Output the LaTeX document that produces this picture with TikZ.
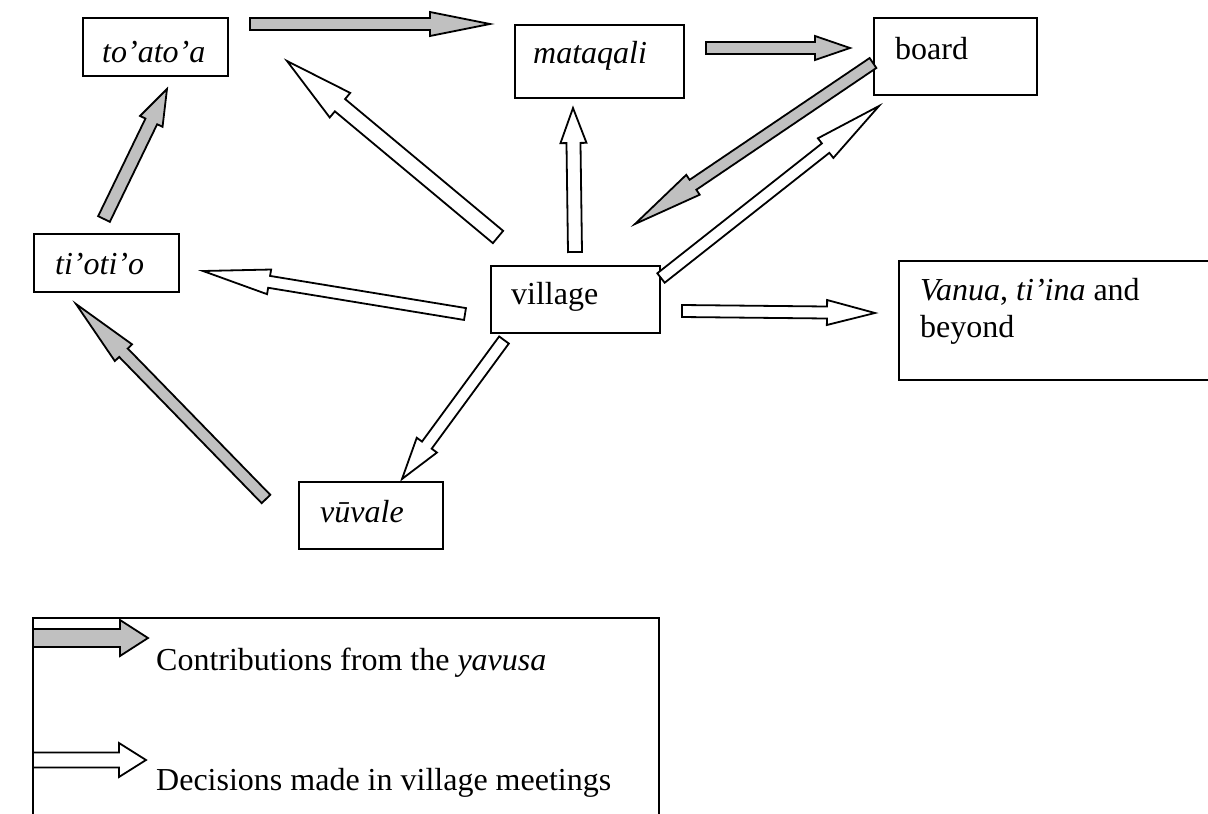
\documentclass[tikz,border=0pt]{standalone}
\usepackage{fontspec}
\setmainfont{Liberation Serif}
\usetikzlibrary{calc}
\definecolor{flowgray}{RGB}{192,192,192}
% block arrow: [style]{tail}{tip}{shaft half width}{head half width}{head length}
\newcommand{\blockarrow}[6][]{%
  \coordinate (ba-h) at ($(#3)!#6!(#2)$);
  \draw[#1] ($(#2)!#4!90:(#3)$) -- ($(ba-h)!#4!90:(#3)$) -- ($(ba-h)!#5!90:(#3)$)
    -- (#3) -- ($(ba-h)!#5!-90:(#3)$) -- ($(ba-h)!#4!-90:(#3)$)
    -- ($(#2)!#4!-90:(#3)$) -- cycle;}
\begin{document}
\begin{tikzpicture}[x=1pt,y=-1pt,
  box/.style={draw, line width=2pt, inner sep=0pt, anchor=north west},
  lbl/.style={inner sep=0pt, anchor=base west, font=\fontsize{32}{37}\selectfont},
  contrib/.style={draw, line width=1.8pt, fill=flowgray, line join=miter},
  decision/.style={draw, line width=1.8pt, fill=white, line join=miter}]
\useasboundingbox (0,0) rectangle (1208,814);
\clip (0,0) rectangle (1208,814);

% boxes
\node[box, minimum width=145pt, minimum height=58pt] (toatoa) at (82,17) {};
\node[box, minimum width=169pt, minimum height=73pt] (mataqali) at (514,24) {};
\node[box, minimum width=163pt, minimum height=77pt] (board) at (873,17) {};
\node[box, minimum width=145pt, minimum height=58pt] (tiotio) at (33,233) {};
\node[box, minimum width=169pt, minimum height=67pt] (village) at (490,265) {};
\node[box, minimum width=340pt, minimum height=119pt] (vanua) at (898,260) {};
\node[box, minimum width=144pt, minimum height=67pt] (vuvale) at (298,481) {};
\node[box, minimum width=626pt, minimum height=230pt] (legend) at (32,617) {};

% labels
\node[lbl] (toatoa-t) at (102,62) {\textit{to’ato’a}};
\node[lbl] (mataqali-t) at (533,63) {\textit{mataqali}};
\node[lbl] (board-t) at (895,59) {board};
\node[lbl] (tiotio-t) at (55,274) {\textit{ti’oti’o}};
\node[lbl] (village-t) at (511,304) {village};
\node[lbl] (vanua-t1) at (920,300) {\textit{Vanua}, \textit{ti’ina} and};
\node[lbl] (vanua-t2) at (920,337) {beyond};
\node[lbl] (vuvale-t) at (320,522) {\textit{vūvale}};
\node[lbl] (key-c) at (156,670) {Contributions from the \textit{yavusa}};
\node[lbl] (key-d) at (156,790) {Decisions made in village meetings};

% arrow ends
\coordinate (a1s) at (250,24);  \coordinate (a1e) at (490,24);
\coordinate (a2s) at (706,48);  \coordinate (a2e) at (850,48);
\coordinate (a3s) at (873,63);  \coordinate (a3e) at (635,224);
\coordinate (a4s) at (661,278); \coordinate (a4e) at (879,106);
\coordinate (a5s) at (575,252); \coordinate (a5e) at (573,108);
\coordinate (a6s) at (498,237); \coordinate (a6e) at (287,61);
\coordinate (a7s) at (465,314); \coordinate (a7e) at (203,271);
\coordinate (a8s) at (682,311); \coordinate (a8e) at (875,313);
\coordinate (a9s) at (504,340); \coordinate (a9e) at (402,479);
\coordinate (a10s) at (266,499); \coordinate (a10e) at (76,304);
\coordinate (a11s) at (104,219); \coordinate (a11e) at (167,89);
\coordinate (k1s) at (33,638);  \coordinate (k1e) at (148,638);
\coordinate (k2s) at (33,760);  \coordinate (k2e) at (146,760);

% contributions from the yavusa
\blockarrow[contrib]{a1s}{a1e}{6pt}{12pt}{60pt}
\blockarrow[contrib]{a2s}{a2e}{6pt}{12pt}{35pt}
\blockarrow[contrib]{a3s}{a3e}{6pt}{12pt}{70pt}
\blockarrow[contrib]{a10s}{a10e}{6pt}{12pt}{68pt}
\blockarrow[contrib]{a11s}{a11e}{6.5pt}{12.5pt}{36pt}
\blockarrow[contrib]{k1s}{k1e}{9pt}{18pt}{28pt}

% decisions made in village meetings
\blockarrow[decision]{a4s}{a4e}{6pt}{12.5pt}{68pt}
\blockarrow[decision]{a5s}{a5e}{7pt}{13pt}{35pt}
\blockarrow[decision]{a6s}{a6e}{8pt}{16pt}{69pt}
\blockarrow[decision]{a7s}{a7e}{6pt}{12.5pt}{67pt}
\blockarrow[decision]{a8s}{a8e}{6pt}{12.5pt}{48pt}
\blockarrow[decision]{a9s}{a9e}{6pt}{12.5pt}{42pt}
\blockarrow[decision]{k2s}{k2e}{7.5pt}{17pt}{27pt}
\end{tikzpicture}
\end{document}
